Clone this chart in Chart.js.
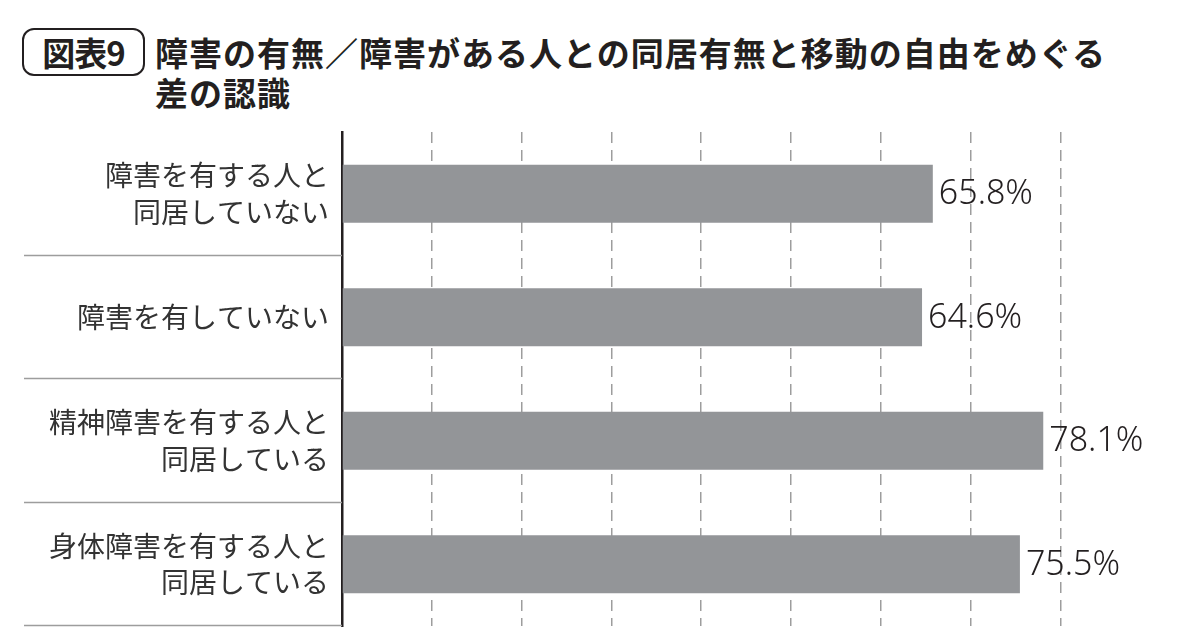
<!DOCTYPE html>
<html lang="ja">
<head>
<meta charset="utf-8">
<title>図表9</title>
<script src="https://cdn.jsdelivr.net/npm/chart.js@4/dist/chart.umd.min.js"></script>
<style>
  html, body { margin: 0; padding: 0; background: #fff; }
  .wrap { position: relative; width: 1200px; height: 630px; overflow: hidden; }
  .badge {
    position: absolute; left: 22px; top: 28px; width: 119px; height: 44px;
    border: 2px solid #231f20; border-radius: 12px;
    font: bold 33px "Noto Sans CJK JP", sans-serif; color: #231f20;
    display: flex; align-items: center; justify-content: center; letter-spacing: -1px;
  }
  .title {
    position: absolute; left: 155px; top: 32px;
    font: bold 33px/40px "Noto Sans CJK JP", sans-serif; color: #231f20; letter-spacing: 1px;
  }
  canvas { position: absolute; left: 0; top: 0; }
</style>
</head>
<body>
<div class="wrap">
  <div class="badge">図表9</div>
  <div class="title">障害の有無／障害がある人との同居有無と移動の自由をめぐる<br>差の認識</div>
  <canvas id="chart" width="1200" height="630"></canvas>
</div>
<script>
'use strict';

const CATEGORIES = [
  ['障害を有する人と', '同居していない'],
  ['障害を有していない'],
  ['精神障害を有する人と', '同居している'],
  ['身体障害を有する人と', '同居している'],
];
const VALUES = [65.8, 64.6, 78.1, 75.5];
const GRID_TICKS = [10, 20, 30, 40, 50, 60, 70, 80];

const INK = '#231f20';
const BAR = '#939598';
const GRID = '#9d9d9d';

// separators between category rows, only in the label column
const rowLines = {
  id: 'rowLines',
  afterDraw(chart) {
    const { ctx, chartArea } = chart;
    const band = (chartArea.bottom - chartArea.top) / CATEGORIES.length;
    ctx.save();
    ctx.strokeStyle = GRID;
    ctx.lineWidth = 1.5;
    for (let i = 1; i <= CATEGORIES.length; i++) {
      const y = Math.round(chartArea.top + band * i) - 0.5;
      ctx.beginPath();
      ctx.moveTo(24, y);
      ctx.lineTo(chartArea.left, y);
      ctx.stroke();
    }
    ctx.restore();
  },
};

// value labels at the end of each bar
const valueLabels = {
  id: 'valueLabels',
  afterDatasetsDraw(chart) {
    const { ctx } = chart;
    const meta = chart.getDatasetMeta(0);
    ctx.save();
    ctx.font = '300 34px "Noto Sans", sans-serif';
    ctx.fillStyle = INK;
    ctx.textAlign = 'left';
    ctx.textBaseline = 'middle';
    meta.data.forEach((bar, i) => {
      ctx.fillText(VALUES[i].toFixed(1) + '%', bar.x + 6, bar.y + 1);
    });
    ctx.restore();
  },
};

new Chart(document.getElementById('chart'), {
  type: 'bar',
  data: {
    labels: CATEGORIES,
    datasets: [{
      data: VALUES,
      backgroundColor: BAR,
      borderWidth: 0,
      categoryPercentage: 1,
      barPercentage: 0.47,
    }],
  },
  options: {
    indexAxis: 'y',
    responsive: false,
    animation: false,
    layout: { padding: { top: 132, right: 5, bottom: 4, left: 0 } },
    plugins: { legend: { display: false }, tooltip: { enabled: false } },
    scales: {
      x: {
        min: 0,
        max: 95,
        afterFit: scale => { scale.height = 0; },
        ticks: { display: false, stepSize: 10 },
        grid: {
          drawTicks: false,
          lineWidth: 1.5,
          color: ctx => GRID_TICKS.includes(ctx.tick && ctx.tick.value) ? GRID : 'rgba(0,0,0,0)',
        },
        border: { display: false, dash: [11, 7] },
      },
      y: {
        afterFit: scale => {
          scale.width = 342;
          scale.paddingTop = 0;
          scale.paddingBottom = 0;
        },
        grid: { display: false, drawTicks: false },
        border: { display: true, color: INK, width: 2.5 },
        ticks: {
          color: '#333',
          padding: 13,
          font: { family: '"Noto Sans CJK JP", sans-serif', size: 28, lineHeight: 1.3 },
        },
      },
    },
  },
  plugins: [rowLines, valueLabels],
});
</script>
</body>
</html>
